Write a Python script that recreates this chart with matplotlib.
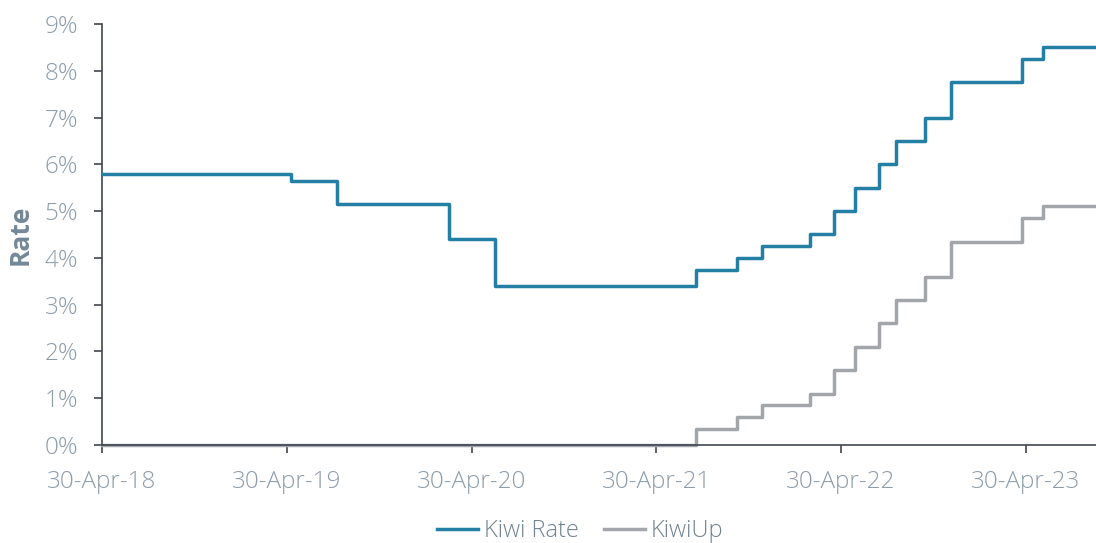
import pandas as pd
import matplotlib
matplotlib.use("Agg")
import matplotlib.pyplot as plt
import matplotlib.dates as mdates
from matplotlib.ticker import FuncFormatter

##  Datos (fechas de cambio y tasas en %)
kiwi_fechas = ["2018-04-30", "2019-05-08", "2019-08-07", "2020-03-16", "2020-06-15",
               "2021-07-17", "2021-10-06", "2021-11-24", "2022-02-27", "2022-04-17",
               "2022-05-28", "2022-07-14", "2022-08-17", "2022-10-12", "2022-12-03",
               "2023-04-22", "2023-06-04", "2023-09-16"]
kiwi_rate = [5.80, 5.65, 5.15, 4.40, 3.40,
             3.75, 4.00, 4.25, 4.50, 5.00,
             5.50, 6.00, 6.50, 7.00, 7.75,
             8.25, 8.50, 8.50]

up_fechas = ["2018-04-30", "2021-07-17", "2021-10-06", "2021-11-24", "2022-02-27",
             "2022-04-17", "2022-05-28", "2022-07-14", "2022-08-17", "2022-10-12",
             "2022-12-03", "2023-04-22", "2023-06-04", "2023-09-16"]
up_rate = [0.00, 0.35, 0.60, 0.85, 1.10,
           1.60, 2.10, 2.60, 3.10, 3.60,
           4.35, 4.85, 5.10, 5.10]

xticks = ["2018-04-30", "2019-04-30", "2020-04-30", "2021-04-30", "2022-04-30", "2023-04-30"]

azul = "#237fa3"
gris = "#a2a6aa"
txt = "#8d9dab"
eje = "#3f474e"

plt.rcParams['font.family'] = ['Open Sans', 'DejaVu Sans']

fig = plt.figure(figsize=(10.96, 5.43), dpi=100)
ax = fig.add_axes([0.0931, 0.1805, 0.9069, 0.7753])

ax.plot(pd.to_datetime(kiwi_fechas), kiwi_rate, drawstyle='steps-post', color=azul,
        linewidth=2.5, label='Kiwi Rate', zorder=3)
ax.plot(pd.to_datetime(up_fechas), up_rate, drawstyle='steps-post', color=gris,
        linewidth=2.5, label='KiwiUp', zorder=2, clip_on=False)

ax.set_xlim(pd.Timestamp("2018-04-30"), pd.Timestamp("2023-09-16"))
ax.set_ylim(0, 9)
ax.set_yticks(range(0, 10))
ax.yaxis.set_major_formatter(FuncFormatter(lambda v, p: f"{int(v)}%"))
ax.set_xticks(pd.to_datetime(xticks))
ax.xaxis.set_major_formatter(mdates.DateFormatter("%d-%b-%y"))

for s in ['top', 'right']:
    ax.spines[s].set_visible(False)
for s in ['left', 'bottom']:
    ax.spines[s].set_color(eje)
    ax.spines[s].set_linewidth(1.2)

ax.tick_params(axis='both', colors=eje, length=6, width=1.2, labelsize=17.5,
               labelcolor=txt, direction='out')
ax.tick_params(axis='x', pad=12)
ax.tick_params(axis='y', pad=11)
for lab in ax.get_xticklabels() + ax.get_yticklabels():
    lab.set_fontweight('light')

ax.set_ylabel('Rate', fontsize=19, fontweight='bold', color='#748897', labelpad=8)

ax.legend(loc='center', bbox_to_anchor=(0.481, -0.205), ncol=2, frameon=False,
          labelcolor='#6f8291', handlelength=1.75, handletextpad=0.25,
          columnspacing=1.05, prop={'weight': 'light', 'size': 17})

plt.savefig('out.png', dpi=100)
